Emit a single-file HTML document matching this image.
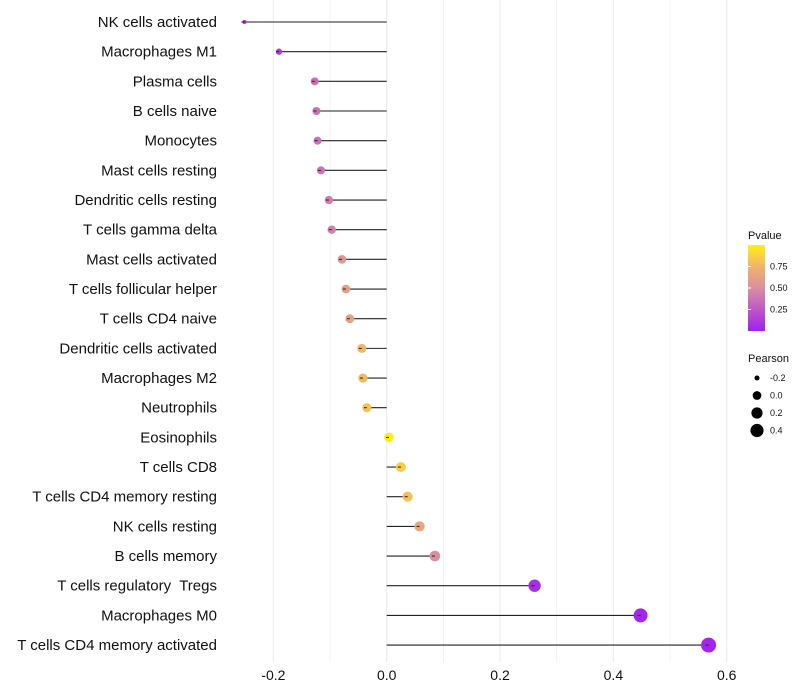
<!DOCTYPE html>
<html><head><meta charset="utf-8"><style>
body{margin:0;background:#fff}
svg{display:block;font-family:"Liberation Sans",sans-serif}
</style></head><body>
<svg id="chart" width="800" height="700" viewBox="0 0 800 700">
<g id="grid"></g>
<g id="marks"></g>
<g id="ylabels"></g>
<g id="xlabels"></g>
<g id="legend">
<defs><linearGradient id="pg" x1="0" y1="1" x2="0" y2="0">
<stop offset="0" stop-color="#a020f0"/><stop offset="0.5" stop-color="#d98fa0"/><stop offset="0.75" stop-color="#f1b46a"/><stop offset="1" stop-color="#ffef1a"/></linearGradient></defs>
<text x="748" y="239" font-size="11" fill="#111">Pvalue</text>
<rect x="748" y="245" width="17" height="86" fill="url(#pg)"/>
<g id="cbticks"></g>
<text x="748" y="362" font-size="11" fill="#111">Pearson</text>
<g id="sizeleg"></g>
</g>
</svg>
<script>
const categories=["NK cells activated","Macrophages M1","Plasma cells","B cells naive","Monocytes","Mast cells resting","Dendritic cells resting","T cells gamma delta","Mast cells activated","T cells follicular helper","T cells CD4 naive","Dendritic cells activated","Macrophages M2","Neutrophils","Eosinophils","T cells CD8","T cells CD4 memory resting","NK cells resting","B cells memory","T cells regulatory  Tregs","Macrophages M0","T cells CD4 memory activated"];
const pearson=[-0.251,-0.19,-0.127,-0.124,-0.122,-0.116,-0.102,-0.097,-0.079,-0.072,-0.065,-0.044,-0.042,-0.035,0.004,0.025,0.037,0.058,0.085,0.261,0.448,0.568];
const pvalue=[0.04,0.12,0.35,0.36,0.36,0.38,0.42,0.44,0.55,0.6,0.63,0.76,0.77,0.82,0.99,0.86,0.8,0.65,0.5,0.06,0.03,0.02];
const xTicks=[-0.2,0,0.2,0.4,0.6];
const xTickLabels=["-0.2","0.0","0.2","0.4","0.6"];
const cbTicks=[0.25,0.5,0.75];
const cbTickLabels=["0.25","0.50","0.75"];
const sizeLegend=[-0.2,0,0.2,0.4];
const sizeLegendLabels=["-0.2","0.0","0.2","0.4"];
const NS="http://www.w3.org/2000/svg";
const X=v=>386.7+v*566.7;
const Y=i=>22+i*29.67;
const R=v=>Math.sqrt(v>=-0.127?Math.max(1,23.3+57.5*v):Math.max(3,16+97*(v+0.127)));
const RL=v=>Math.sqrt(Math.max(4,16.5+57.1*v));
function lerp(a,b,t){return a.map((x,i)=>Math.round(x+(b[i]-x)*t));}
function col(p){const st=[[0,[160,32,240]],[0.5,[217,143,160]],[0.75,[241,180,106]],[1,[255,239,26]]];
for(let k=1;k<st.length;k++){if(p<=st[k][0]){const t=(p-st[k-1][0])/(st[k][0]-st[k-1][0]);return 'rgb('+lerp(st[k-1][1],st[k][1],t).join(',')+')';}}return 'rgb(255,239,26)';}
function mk(tag,at,parent){const e=document.createElementNS(NS,tag);for(const k in at)e.setAttribute(k,at[k]);parent.appendChild(e);return e;}
const grid=document.getElementById('grid'),marks=document.getElementById('marks'),yl=document.getElementById('ylabels'),xl=document.getElementById('xlabels');
for(let v=-0.2;v<=0.61;v+=0.1){const l=mk('line',{x1:X(v),x2:X(v),y1:0,y2:662,stroke:'#ebebeb','stroke-width':Math.abs(Math.round(v*10))%2===0?1:0.6},grid);

}
xTicks.forEach((v,i)=>{const t=mk('text',{x:X(v),y:680,'font-size':14,'text-anchor':'middle',fill:'#111'},xl);t.textContent=xTickLabels[i];

});
categories.forEach((c,i)=>{const y=Y(i);
const t=mk('text',{x:217,y:y+5,'font-size':15,'text-anchor':'end',fill:'#111',style:'white-space:pre'},yl);t.textContent=c;


const l=mk('line',{x1:X(0),x2:X(pearson[i]),y1:y,y2:y,stroke:'#222','stroke-width':1.1},marks);


const d=mk('circle',{cx:X(pearson[i]),cy:y,r:R(pearson[i]),fill:col(pvalue[i])},marks);


const l2=mk('line',{x1:X(pearson[i])-3,x2:X(pearson[i]),y1:y,y2:y,stroke:'#222','stroke-width':1},marks);

});
const cb=document.getElementById('cbticks');
cbTicks.forEach((p,i)=>{const y=331-p*86;
const l=mk('line',{x1:748,x2:751,y1:y,y2:y,stroke:'#fff','stroke-width':1},cb);
const t=mk('text',{x:770,y:y+3,'font-size':9,fill:'#111'},cb);t.textContent=cbTickLabels[i];

});
const sl=document.getElementById('sizeleg');
sizeLegend.forEach((v,i)=>{const y=378+i*17.5;
const c=mk('circle',{cx:757,cy:y,r:RL(v)+0.3,fill:'#000'},sl);
const t=mk('text',{x:770,y:y+3,'font-size':9,fill:'#111'},sl);t.textContent=sizeLegendLabels[i];

});
</script>
</body></html>
